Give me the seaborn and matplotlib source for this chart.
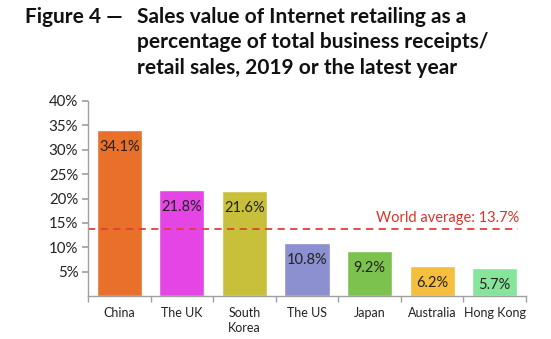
import matplotlib
matplotlib.use("Agg")
import matplotlib.pyplot as plt
import seaborn as sns
import pandas as pd

categories = ["China", "The UK", "South\nKorea", "The US", "Japan", "Australia", "Hong Kong"]
values = [34.1, 21.8, 21.6, 10.8, 9.2, 6.2, 5.7]
colors = ["#E8702A", "#E645E6", "#C8C03A", "#8C8FD0", "#7CC24E", "#F5BE3C", "#86E59A"]
world_avg = 13.7
yticks = [5, 10, 15, 20, 25, 30, 35, 40]

sns.set_theme(style="white")
plt.rcParams["font.family"] = ["Lato", "DejaVu Sans"]

df = pd.DataFrame({"cat": categories, "val": values})

fig = plt.figure(figsize=(5.51, 3.39), dpi=100)
ax = fig.add_axes([88/551, 1-296/339, (526-88)/551, (296-101)/339])

sns.barplot(data=df, x="cat", y="val", hue="cat", palette=colors, width=0.72,
            legend=False, ax=ax, saturation=1)

ax.set_xlim(-0.5, 6.5)
ax.set_ylim(0, 40)
ax.set_yticks(yticks)
ax.set_yticklabels([f"{t}%" for t in yticks], fontsize=10.8, color="#222222")
ax.set_xlabel("")
ax.set_ylabel("")

# category ticks between bars
ax.set_xticks(range(len(categories)))
ax.set_xticklabels(categories, fontsize=9, linespacing=1.3, color="#222222")
ax.tick_params(axis="x", length=0, pad=8)
ax.set_xticks([i + 0.5 for i in range(-1, len(categories))], minor=True)
ax.tick_params(axis="x", which="minor", length=4, color="#A0A0A0", direction="out", bottom=True)
ax.tick_params(axis="y", length=4, color="#A0A0A0", direction="out", left=True, pad=3)

for s in ["top", "right"]:
    ax.spines[s].set_visible(False)
for s in ["left", "bottom"]:
    ax.spines[s].set_color("#A0A0A0")
    ax.spines[s].set_linewidth(1.0)

for i, v in enumerate(values):
    ax.annotate(f"{v}%", (i, v), xytext=(0, -17), textcoords="offset pixels",
                ha="center", va="center", fontsize=10.5, color="#222222")

ax.axhline(world_avg, xmin=0, xmax=(518-88)/438, color="#E0403A", linestyle=(0, (4, 3)), linewidth=1.3)
ax.text(6.4, world_avg + 0.8, f"World average: {world_avg}%", ha="right", va="bottom",
        color="#D9342B", fontsize=10.5)

fig.text(25/551, 1-17/339, "Figure 4 \u2014", ha="left", va="center", fontsize=15, fontweight="bold", color="#111111")
title_lines = ["Sales value of Internet retailing as a",
               "percentage of total business receipts/",
               "retail sales, 2019 or the latest year"]
for k, line in enumerate(title_lines):
    fig.text(137/551, 1-(17+25.5*k)/339, line, ha="left", va="center", fontsize=15,
             fontweight="bold", color="#111111")

fig.savefig("out.png", dpi=100)
